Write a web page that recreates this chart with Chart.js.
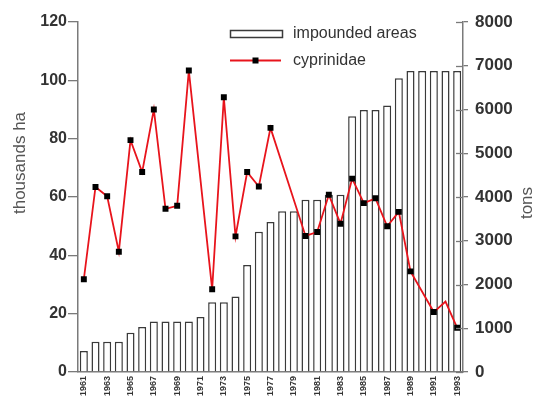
<!DOCTYPE html>
<html>
<head>
<meta charset="utf-8">
<script src="https://cdn.jsdelivr.net/npm/chart.js@4/dist/chart.umd.min.js"></script>
<style>
html,body{margin:0;padding:0;background:#fff;}
#wrap{width:544px;height:399px;position:relative;}
</style>
</head>
<body>
<div id="wrap"><canvas id="c" width="544" height="399"></canvas></div>
<script>
const years = ['1961','1962','1963','1964','1965','1966','1967','1968','1969','1970','1971','1972','1973','1974','1975','1976','1977','1978','1979','1980','1981','1982','1983','1984','1985','1986','1987','1988','1989','1990','1991','1992','1993'];
const impoundedAreas = [7.2,10.4,10.4,10.4,13.5,15.4,17.3,17.3,17.3,17.3,18.9,23.9,23.9,25.9,36.7,48.1,51.4,55.1,55.1,59.1,59.1,60.8,60.8,87.7,89.8,89.8,91.4,100.7,103.2,103.2,103.2,103.2,103.2];
const cyprinidae = [2120,4230,4015,2750,5300,4570,6000,3730,3800,6890,null,1890,6280,3100,4570,4240,5580,null,null,3110,3200,4050,3390,4420,3860,3970,3330,3660,2300,null,1370,1610,1010];
const leftTicks = [0,20,40,60,80,100,120];
const rightTicks = [0,1000,2000,3000,4000,5000,6000,7000,8000];
const leftTitle = 'thousands ha';
const rightTitle = 'tons';
const seriesLabels = ['impounded areas','cyprinidae'];

const axisColor = '#7a7a7a';
const textColor = '#333333';

const decorPlugin = {
  id: 'decor',
  afterDraw(chart) {
    const ctx = chart.ctx;
    const yR = chart.scales.yR;
    ctx.save();
    ctx.strokeStyle = axisColor;
    ctx.lineWidth = 1.3;
    rightTicks.forEach(v => {
      const py = Math.round(yR.getPixelForValue(v)) + 0.5;
      ctx.beginPath();
      ctx.moveTo(yR.left - 7, py);
      ctx.lineTo(yR.left, py);
      ctx.stroke();
    });
    ctx.fillStyle = '#555555';
    ctx.font = '17px "Liberation Sans", Arial, sans-serif';
    ctx.textAlign = 'center';
    ctx.textBaseline = 'middle';
    ctx.save();
    ctx.translate(20, 163);
    ctx.rotate(-Math.PI / 2);
    ctx.fillText(leftTitle, 0, 0);
    ctx.restore();
    ctx.save();
    ctx.translate(527, 203);
    ctx.rotate(-Math.PI / 2);
    ctx.fillText(rightTitle, 0, 0);
    ctx.restore();
    const ds0 = chart.data.datasets[0];
    const ds1 = chart.data.datasets[1];
    ctx.fillStyle = '#ffffff';
    ctx.strokeStyle = ds0.borderColor;
    ctx.lineWidth = 1.5;
    ctx.fillRect(230.5, 30.5, 52, 7);
    ctx.strokeRect(230.5, 30.5, 52, 7);
    ctx.strokeStyle = ds1.borderColor;
    ctx.lineWidth = 2;
    ctx.beginPath();
    ctx.moveTo(230, 60.5);
    ctx.lineTo(281, 60.5);
    ctx.stroke();
    ctx.fillStyle = '#000000';
    ctx.fillRect(252.5, 57.5, 6, 6);
    ctx.fillStyle = textColor;
    ctx.font = '16px "Liberation Sans", Arial, sans-serif';
    ctx.textAlign = 'left';
    ctx.textBaseline = 'middle';
    ctx.fillText(ds0.label, 293, 34);
    ctx.fillText(ds1.label, 293, 61);
    ctx.restore();
  }
};

new Chart(document.getElementById('c'), {
  type: 'bar',
  data: {
    labels: years,
    datasets: [
      {
        type: 'bar',
        label: seriesLabels[0],
        data: impoundedAreas,
        yAxisID: 'yL',
        backgroundColor: '#ffffff',
        borderColor: '#3a3a3a',
        borderWidth: 1.5,
        barPercentage: 0.69,
        categoryPercentage: 1.0,
        order: 2
      },
      {
        type: 'line',
        label: seriesLabels[1],
        data: cyprinidae,
        yAxisID: 'yR',
        borderColor: '#e8141c',
        borderWidth: 1.8,
        pointStyle: 'rect',
        pointRadius: cyprinidae.map((v, i) => i === 31 ? 0 : 4.2),
        pointBackgroundColor: '#000000',
        pointBorderColor: '#000000',
        pointBorderWidth: 0,
        spanGaps: true,
        tension: 0,
        order: 1
      }
    ]
  },
  options: {
    responsive: false,
    animation: false,
    devicePixelRatio: 1,
    layout: { padding: { top: 22, left: 0, right: 0, bottom: 0 } },
    plugins: { legend: { display: false }, tooltip: { enabled: false } },
    scales: {
      x: {
        type: 'category',
        offset: true,
        grid: { display: false, drawTicks: false },
        border: { display: true, color: axisColor, width: 1.5 },
        ticks: {
          autoSkip: false,
          minRotation: 90,
          maxRotation: 90,
          padding: 4,
          color: textColor,
          font: { family: '"Liberation Sans", Arial, sans-serif', size: 9, weight: 'bold' },
          callback: (v, i) => (i % 2 === 0 ? years[i] : '')
        },
        afterFit: s => { s.height = 27; }
      },
      yL: {
        type: 'linear',
        position: 'left',
        min: 0,
        max: 120,
        afterBuildTicks: s => { s.ticks = leftTicks.map(v => ({ value: v })); },
        grid: { drawOnChartArea: false, drawTicks: true, tickLength: 10, color: axisColor, lineWidth: 1.3 },
        border: { display: true, color: axisColor, width: 1.5 },
        ticks: {
          padding: 1,
          color: textColor,
          font: { family: '"Liberation Sans", Arial, sans-serif', size: 16, weight: 'bold' },
          callback: v => String(v)
        },
        afterFit: s => { s.width = 78; }
      },
      yR: {
        type: 'linear',
        position: 'right',
        min: 0,
        max: 8000,
        afterBuildTicks: s => { s.ticks = rightTicks.map(v => ({ value: v })); },
        grid: { drawOnChartArea: false, drawTicks: true, tickLength: 5, color: axisColor, lineWidth: 1.3 },
        border: { display: true, color: axisColor, width: 1.5 },
        ticks: {
          padding: 7,
          color: textColor,
          font: { family: '"Liberation Sans", Arial, sans-serif', size: 17, weight: 'bold' },
          callback: v => String(v)
        },
        afterFit: s => { s.width = 81; }
      }
    }
  },
  plugins: [decorPlugin]
});
</script>
</body>
</html>
